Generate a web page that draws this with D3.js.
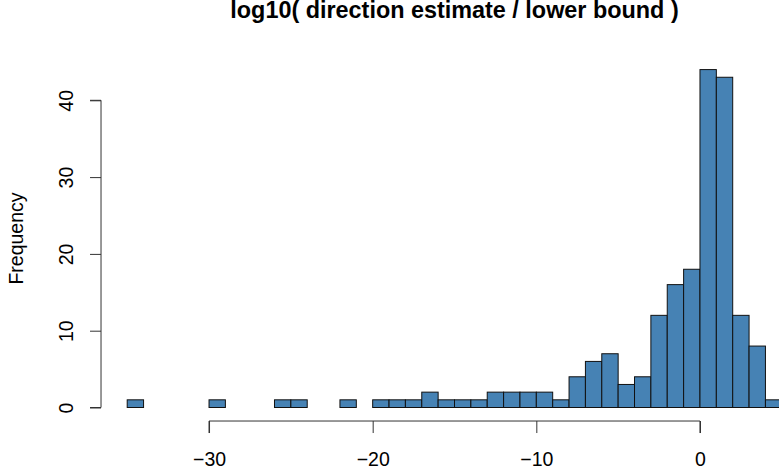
<!DOCTYPE html>
<html>
<head>
<meta charset="utf-8">
<script src="https://cdn.jsdelivr.net/npm/d3@7"></script>
<style>
  body { margin: 0; background: #fff; }
  svg { display: block; font-family: "Liberation Sans", Arial, Helvetica, sans-serif; }
</style>
</head>
<body>
<svg id="chart" width="779" height="474"></svg>
<script>
// Bin left edges (width 1) and counts
const binStarts = d3.range(-35, 5);
const counts = [1,0,0,0,0, 1,0,0,0,1, 1,0,0,1,0, 1,1,1,2,1, 1,1,2,2,2, 2,1,4,6,7, 3,4,12,16,18, 44,43,12,8,1];
const xTicks = [-30, -20, -10, 0];
const yTicks = [0, 10, 20, 30, 40];
const title = "log10( direction estimate / lower bound )";
const yLabel = "Frequency";

const bins = binStarts.map((s, i) => ({x0: s, x1: s + 1, n: counts[i]}));

const svg = d3.select("#chart");
const x = d3.scaleLinear().domain([-35, 5]).range([127.2, 781.8]);
const y = d3.scaleLinear().domain([0, 40]).range([407.5, 100.3]);
const plotLeft = x(-36.6), plotRight = x(6.6);
const plotTop = y(45.76), plotBottom = y(-1.76);

// bars
svg.append("g").selectAll("rect").data(bins).join("rect")
  .attr("x", d => x(d.x0))
  .attr("y", d => y(d.n))
  .attr("width", d => x(d.x1) - x(d.x0))
  .attr("height", d => y(0) - y(d.n))
  .attr("fill", "steelblue")
  .attr("stroke", "#111")
  .attr("stroke-width", 1);

// x axis
const xAxis = d3.axisBottom(x).tickValues(xTicks).tickSize(12).tickPadding(0)
  .tickFormat(d => d < 0 ? "\u2212" + Math.abs(d) : d);
const gx = svg.append("g").attr("transform", `translate(0,${plotBottom})`).call(xAxis);
gx.select(".domain").attr("d", `M${x(-30)},12V0H${x(0)}V12`).attr("stroke", "#333");
gx.selectAll(".tick line").attr("stroke", "#333");
gx.selectAll(".tick text").attr("font-size", 19.5).attr("fill", "#000")
  .attr("font-family", "Liberation Sans, Arial, sans-serif")
  .attr("dy", null)
  .attr("y", 45);

// y axis
const yAxis = d3.axisLeft(y).tickValues(yTicks).tickSize(11).tickPadding(0);
const gy = svg.append("g").attr("transform", `translate(${plotLeft},0)`).call(yAxis);
gy.select(".domain").attr("d", `M-11,${y(0)}H0V${y(40)}H-11`).attr("stroke", "#333");
gy.selectAll(".tick line").attr("stroke", "#333");
gy.selectAll(".tick text")
  .attr("font-size", 19.5).attr("fill", "#000")
  .attr("font-family", "Liberation Sans, Arial, sans-serif")
  .attr("text-anchor", "middle")
  .attr("dy", null)
  .attr("x", null)
  .attr("transform", "translate(-28,0) rotate(-90)")
  .attr("y", 0);

// title
svg.append("text")
  .attr("x", (plotLeft + plotRight) / 2).attr("y", 17.5)
  .attr("text-anchor", "middle")
  .attr("font-size", 23.4).attr("font-weight", "bold")
  .text(title);

// y label
svg.append("text")
  .attr("transform", `translate(23,${(plotTop + plotBottom) / 2}) rotate(-90)`)
  .attr("text-anchor", "middle")
  .attr("font-size", 19.5)
  .text(yLabel);
</script>
</body>
</html>
